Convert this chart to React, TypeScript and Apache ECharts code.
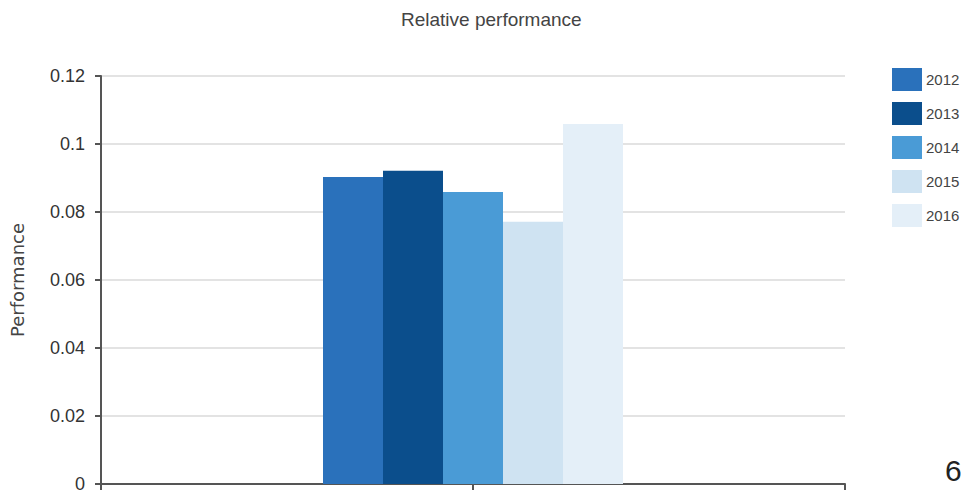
import React, { useEffect, useRef } from "react";
import * as echarts from "echarts";

// Category slots: the bars sit on the middle slot, the outer ones frame the axis.
const categories = ["", "Performance", " "];
const years = ["2012", "2013", "2014", "2015", "2016"];
const values2012 = [0.0903];
const values2013 = [0.0921];
const values2014 = [0.0859];
const values2015 = [0.0771];
const values2016 = [0.1059];
const yTicks = [0, 0.02, 0.04, 0.06, 0.08, 0.1, 0.12];
const colors = ["#2a71bb", "#0b4e8c", "#4a9bd6", "#cfe3f2", "#e4eff8"];

const SANS = "'Liberation Sans', Arial, sans-serif";

export default function App() {
  const ref = useRef<HTMLDivElement>(null);

  useEffect(() => {
    if (!ref.current) return;
    const chart = echarts.init(ref.current, undefined, { renderer: "svg" });
    const allValues = [values2012, values2013, values2014, values2015, values2016];

    chart.setOption({
      animation: false,
      backgroundColor: "#ffffff",
      title: {
        text: "Relative performance",
        left: 396,
        top: 5,
        textStyle: {
          fontFamily: SANS,
          fontSize: 19,
          fontWeight: "normal",
          color: "#444444",
        },
      },
      legend: {
        orient: "vertical",
        left: 892,
        top: 68,
        padding: 0,
        itemWidth: 30,
        itemHeight: 23,
        itemGap: 11,
        icon: "rect",
        data: years,
        textStyle: { fontFamily: SANS, fontSize: 15, color: "#444444", padding: [0, 0, 0, -1] },
      },
      grid: { left: 99, right: 117, top: 76, bottom: 10, containLabel: false },
      xAxis: {
        type: "category",
        data: categories,
        boundaryGap: false,
        axisLine: { lineStyle: { color: "#555555", width: 2 } },
        axisTick: { show: true, interval: 0, length: 6, lineStyle: { color: "#555555", width: 2 } },
        axisLabel: { show: false },
        splitLine: { show: false },
      },
      yAxis: {
        type: "value",
        min: yTicks[0],
        max: yTicks[yTicks.length - 1],
        interval: yTicks[1] - yTicks[0],
        name: "Performance",
        nameLocation: "middle",
        nameGap: 75,
        nameTextStyle: { fontFamily: "'DejaVu Sans', sans-serif", fontSize: 18, color: "#444444" },
        axisLine: { show: true, lineStyle: { color: "#555555", width: 2 } },
        axisTick: { show: true, length: 6, lineStyle: { color: "#555555", width: 2 } },
        axisLabel: { margin: 16, fontFamily: SANS, fontSize: 18, color: "#333333" },
        splitLine: { lineStyle: { color: "#dadada", width: 1.5 } },
      },
      series: years.map((year, i) => ({
        name: year,
        type: "bar",
        barWidth: 60,
        barGap: "0%",
        itemStyle: { color: colors[i] },
        data: ["-", allValues[i][0], "-"],
      })),
      graphic: [
        {
          type: "text",
          left: 945,
          top: 455,
          style: {
            text: "6",
            fontFamily: SANS,
            fontSize: 30,
            fill: "#222222",
          },
        },
      ],
    });

    return () => chart.dispose();
  }, []);

  return (
    <div
      ref={ref}
      style={{ position: "fixed", left: 0, top: 0, width: 962, height: 494 }}
    />
  );
}
